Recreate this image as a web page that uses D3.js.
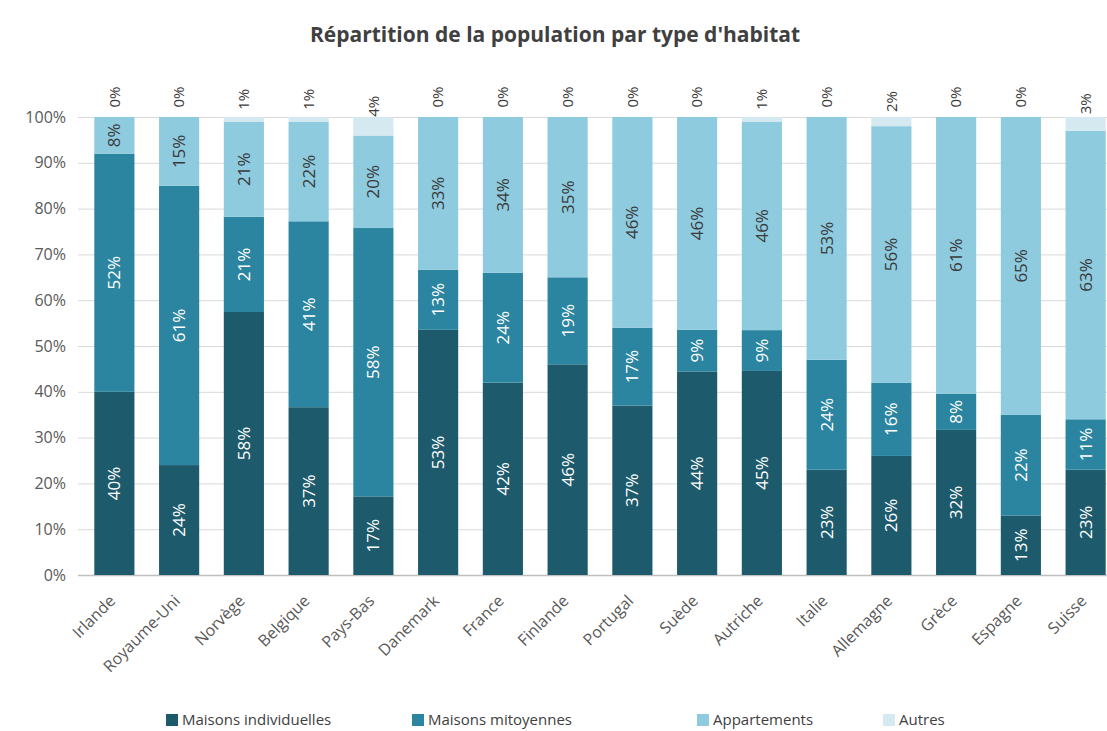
<!DOCTYPE html>
<html><head><meta charset="utf-8">
<script src="https://cdn.jsdelivr.net/npm/d3@7"></script>
<style>body{margin:0;background:#fff;}svg{display:block;}</style>
</head><body>
<svg id="c" width="1107" height="731"></svg>
<script>
const categories = ["Irlande","Royaume-Uni","Norvège","Belgique","Pays-Bas","Danemark","France","Finlande","Portugal","Suède","Autriche","Italie","Allemagne","Grèce","Espagne","Suisse"];
const individuelles = [40,24,58,37,17,53,42,46,37,44,45,23,26,32,13,23];
const mitoyennes   = [52,61,21,41,58,13,24,19,17,9,9,24,16,8,22,11];
const appartements = [8,15,21,22,20,33,34,35,46,46,46,53,56,61,65,63];
const autres       = [0,0,1,1,4,0,0,0,0,0,1,0,2,0,0,3];
const seriesNames = ["Maisons individuelles","Maisons mitoyennes","Appartements","Autres"];
const yTicks = [0,0.1,0.2,0.3,0.4,0.5,0.6,0.7,0.8,0.9,1];

const colors = ["#1d5a6c","#2b84a0","#8ecbdf","#d5e9f1"];
const labelColors = ["#ffffff","#ffffff","#3a3a3a","#3a3a3a"];
const font = "'Open Sans', 'Noto Sans', sans-serif";

const svg = d3.select("#c");
const x = d3.scaleBand().domain(categories).range([82,1118]).paddingInner(0.38).paddingOuter(0.19);
const y = d3.scaleLinear().domain([0,1]).range([575,117]);

const data = categories.map((c,i)=>({cat:c, s0:individuelles[i], s1:mitoyennes[i], s2:appartements[i], s3:autres[i]}));
const stack = d3.stack().keys(["s0","s1","s2","s3"]).offset(d3.stackOffsetExpand);
const layers = stack(data);

// title
svg.append("text").attr("x",555).attr("y",42).attr("text-anchor","middle")
  .attr("font-family",font).attr("font-weight","bold").attr("font-size",21).attr("fill","#404040")
  .text("Répartition de la population par type d'habitat");

// grid
svg.append("g").selectAll("line").data(yTicks).join("line")
  .attr("x1",78).attr("x2",1107).attr("y1",d=>y(d)+0.5).attr("y2",d=>y(d)+0.5)
  .attr("stroke",d=>d===0?"#bfbfbf":"#d9d9d9").attr("stroke-width",d=>d===0?1.5:1);

// y axis
const yAxis = d3.axisLeft(y).tickValues(yTicks).tickFormat(d3.format(".0%")).tickSize(0).tickPadding(0);
const ya = svg.append("g").attr("transform","translate(66,0)").call(yAxis);
ya.select(".domain").remove();
ya.selectAll("text").attr("font-family",font).attr("font-size",16).attr("fill","#595959");

// bars
layers.forEach((layer,k)=>{
  svg.append("g").selectAll("rect").data(layer).join("rect")
    .attr("x",d=>x(d.data.cat)).attr("width",x.bandwidth())
    .attr("y",d=>y(d[1])).attr("height",d=>Math.max(0,y(d[0])-y(d[1])))
    .attr("fill",colors[k]);
});

// labels
layers.forEach((layer,k)=>{
  svg.append("g").selectAll("text").data(layer).join("text")
    .attr("transform",d=>{
      const cx = x(d.data.cat)+x.bandwidth()/2;
      let cy = (y(d[0])+y(d[1]))/2;
      if(k===3) cy = cy - 20;
      return `translate(${cx},${cy}) rotate(-90)`;
    })
    .attr("text-anchor","middle").attr("dy","0.35em")
    .attr("font-family",font).attr("font-size",k===3?15:17)
    .attr("fill",labelColors[k])
    .text(d=>d.data["s"+k]+"%");
});

// x axis labels
const xAxis = d3.axisBottom(x).tickSize(0).tickPadding(0);
const xa = svg.append("g").attr("transform","translate(0,585)").call(xAxis);
xa.select(".domain").remove();
xa.selectAll("text").attr("font-family",font).attr("font-size",16).attr("fill","#595959")
  .attr("text-anchor","end").attr("dy","0.35em")
  .attr("transform","translate(-2,13) rotate(-45)");

// legend
const legX = [166,412,697,883];
const lg = svg.append("g").selectAll("g").data(seriesNames).join("g")
  .attr("transform",(d,i)=>`translate(${legX[i]},714)`);
lg.append("rect").attr("width",12).attr("height",12).attr("fill",(d,i)=>colors[i]);
lg.append("text").attr("x",16).attr("y",6).attr("dy","0.35em")
  .attr("font-family",font).attr("font-size",15).attr("fill","#404040").text(d=>d);
</script>
</body></html>
